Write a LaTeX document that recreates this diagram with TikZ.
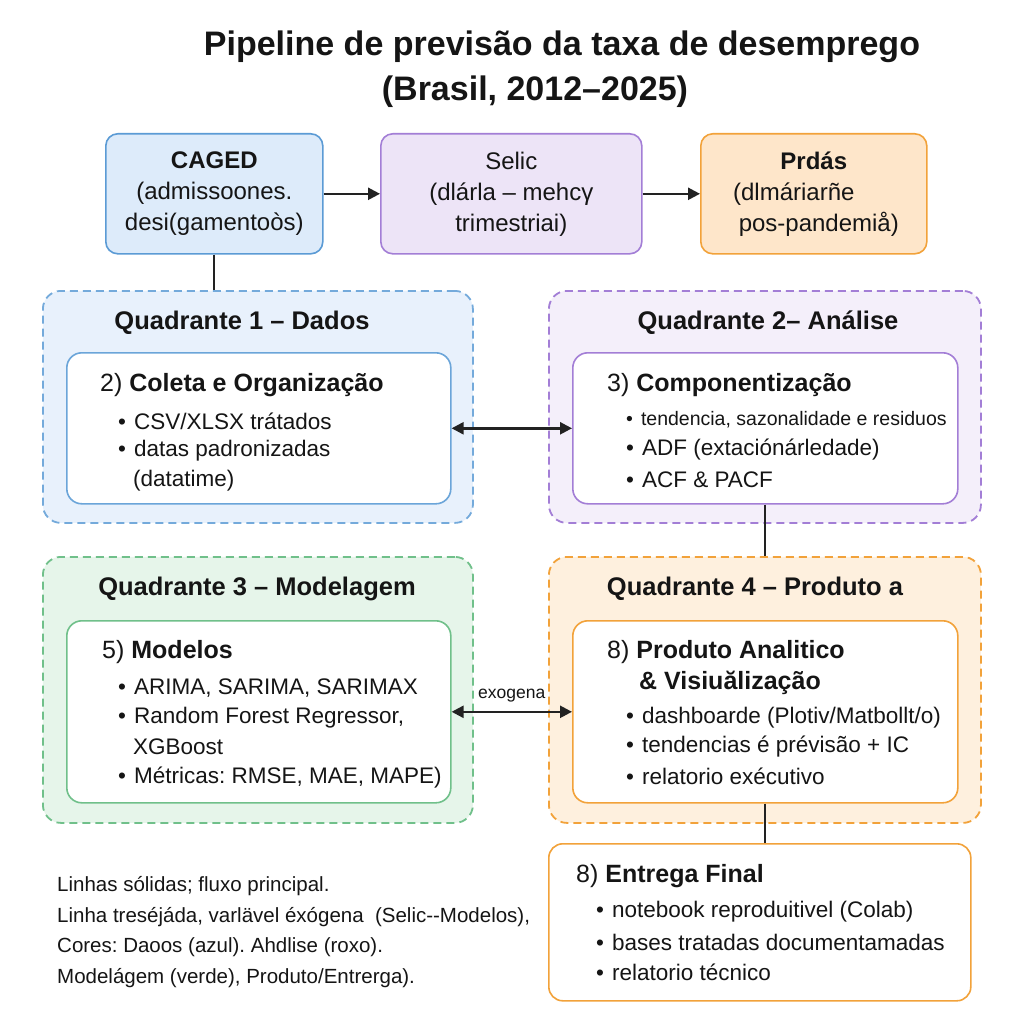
\documentclass[tikz,border=0pt]{standalone}
\usepackage{fontspec}
\setmainfont{Liberation Sans}
\usetikzlibrary{arrows.meta}
\definecolor{bluebd}{HTML}{5B9BD5}
\definecolor{bluefill}{HTML}{DDEBFA}
\definecolor{blueq}{HTML}{E8F1FC}
\definecolor{purpbd}{HTML}{A37ED6}
\definecolor{purpfill}{HTML}{EDE4F7}
\definecolor{purpq}{HTML}{F4EFFA}
\definecolor{greenbd}{HTML}{70C08A}
\definecolor{greenq}{HTML}{E6F5EA}
\definecolor{orbd}{HTML}{F2A23A}
\definecolor{orfill}{HTML}{FEE6CA}
\definecolor{orq}{HTML}{FEF0DE}
\definecolor{ink}{HTML}{151515}
\definecolor{arr}{HTML}{222222}
\begin{document}
\frenchspacing
\begin{tikzpicture}[x=1pt,y=-1pt,
  topbox/.style={draw, line width=1.6pt, rounded corners=12pt, anchor=north west, align=center, text=ink, inner sep=0pt, font=\fontsize{24}{31}\selectfont},
  quad/.style={draw, dashed, dash pattern=on 8pt off 5pt, line width=1.8pt, rounded corners=18pt, anchor=north west},
  inbox/.style={draw, fill=white, line width=1.6pt, rounded corners=15pt, anchor=north west},
  qtitle/.style={font=\fontsize{25.5}{30}\selectfont\bfseries, text=ink, anchor=center},
  heading/.style={font=\fontsize{25}{29}\selectfont, text=ink, anchor=west, inner sep=0pt},
  bul/.style={font=\fontsize{22.5}{26}\selectfont, text=ink, anchor=west, inner sep=0pt},
  legend/.style={font=\fontsize{20.5}{24}\selectfont, text=ink, anchor=west, inner sep=0pt},
  flow/.style={draw=arr, line width=2.4pt, -{Triangle[length=12pt,width=12pt]}},
  dflow/.style={draw=arr, line width=2.4pt, {Triangle[length=12pt,width=12pt]}-{Triangle[length=12pt,width=12pt]}},
  link/.style={draw=arr, line width=2.2pt}
]
\useasboundingbox[fill=white] (0,0) rectangle (1024,1024);

% title
\node[font=\fontsize{34}{38}\selectfont\bfseries, text=ink] (t1) at (562,47) {Pipeline de previsão da taxa de desemprego};
\node[font=\fontsize{34}{38}\selectfont\bfseries, text=ink] (t2) at (535,92) {(Brasil, 2012–2025)};

% top boxes
\node[topbox, draw=bluebd, fill=bluefill, minimum width=217pt, minimum height=120pt] (caged) at (105,133)
  {\textbf{CAGED}\\ (admissoones.\\ desi(gamentoòs)};
\node[topbox, draw=purpbd, fill=purpfill, minimum width=261pt, minimum height=120pt] (selic) at (380,133)
  {Selic\\ (dlárla – mehcγ\\ trimestriai)};
\node[topbox, draw=orbd, fill=orfill, minimum width=226pt, minimum height=120pt] (prdas) at (700,133)
  {\textbf{Prdás}\\ (dlmáriarñe\rule{40pt}{0pt}\\ \rule{10pt}{0pt}pos-pandemiå)};

% quadrants
\node[quad, draw=bluebd!85, fill=blueq, minimum width=430pt, minimum height=232pt] (q1) at (42,290) {};
\node[quad, draw=purpbd, fill=purpq, minimum width=432pt, minimum height=232pt] (q2) at (548,290) {};
\node[quad, draw=greenbd, fill=greenq, minimum width=430pt, minimum height=266pt] (q3) at (42,556) {};
\node[quad, draw=orbd, fill=orq, minimum width=432pt, minimum height=266pt] (q4) at (548,556) {};

\node[qtitle] (q1t) at (242,323) {Quadrante 1 – Dados};
\node[qtitle] (q2t) at (768,323) {Quadrante 2– Análise};
\node[qtitle] (q3t) at (257,589) {Quadrante 3 – Modelagem};
\node[qtitle] (q4t) at (755,589) {Quadrante 4 – Produto a};

% inner boxes
\node[inbox, draw=bluebd!90, minimum width=384pt, minimum height=151pt] (b1) at (66,352) {};
\node[inbox, draw=purpbd, minimum width=385pt, minimum height=151pt] (b2) at (572,352) {};
\node[inbox, draw=greenbd, minimum width=384pt, minimum height=182pt] (b3) at (66,620) {};
\node[inbox, draw=orbd, minimum width=385pt, minimum height=182pt] (b4) at (572,620) {};

% b1 text
\node[heading] (h1) at (100,385) {2) \textbf{Coleta e Organização}};
\node[bul] (b1a) at (118,421) {•\hspace{8pt}CSV/XLSX trátados};
\node[bul] (b1b) at (118,451) {•\hspace{8pt}datas padronizadas};
\node[bul] (b1c) at (133,481) {(datatime)};

% b2 text
\node[heading] (h2) at (607,385) {3) \textbf{Componentização}};
\node[bul, font=\fontsize{19.5}{23}\selectfont] (b2a) at (626,420) {•\hspace{8pt}tendencia, sazonalidade e residuos};
\node[bul] (b2b) at (626,450) {•\hspace{8pt}ADF (extaciónárledade)};
\node[bul] (b2c) at (626,480) {•\hspace{8pt}ACF \& PACF};

% b3 text
\node[heading] (h3) at (102,652) {5) \textbf{Modelos}};
\node[bul] (b3a) at (118,688) {•\hspace{8pt}ARIMA, SARIMA, SARIMAX};
\node[bul] (b3b) at (118,718) {•\hspace{8pt}Random Forest Regressor,};
\node[bul] (b3c) at (133,747) {XGBoost};
\node[bul] (b3d) at (118,778) {•\hspace{8pt}Métricas: RMSE, MAE, MAPE)};

% b4 text
\node[heading] (h4) at (607,652) {8) \textbf{Produto Analitico}};
\node[heading] (h4b) at (639,683) {\textbf{\& Visiuălização}};
\node[bul] (b4a) at (626,718) {•\hspace{8pt}dashboarde (Plotiv/Matbollt/o)};
\node[bul] (b4b) at (626,747) {•\hspace{8pt}tendencias é prévisão + IC};
\node[bul] (b4c) at (626,776) {•\hspace{8pt}relatorio exécutivo};

% final box
\node[inbox, draw=orbd, rounded corners=14pt, minimum width=422pt, minimum height=157pt] (ent) at (548,843) {};
\node[heading] (h5) at (576,876) {8) \textbf{Entrega Final}};
\node[bul] (e1) at (596,912) {•\hspace{8pt}notebook reproduitivel (Colab)};
\node[bul] (e2) at (596,942) {•\hspace{8pt}bases tratadas documentamadas};
\node[bul] (e3) at (596,972) {•\hspace{8pt}relatorio técnico};

% legend
\node[legend] (l1) at (57,886) {Linhas sólidas; fluxo principal.};
\node[legend] (l2) at (57,917) {Linha treséjáda, varlävel éxógena\ \ (Selic-{}-Modelos),};
\node[legend] (l3) at (57,947) {Cores: Daoos (azul). Ahdlise (roxo).};
\node[legend] (l4) at (57,978) {Modelágem (verde), Produto/Entrerga).};

% connectors
\draw[flow] (caged) -- (selic);
\draw[flow] (selic) -- (prdas);
\draw[link] (caged.south) -- (caged.south |- q1.north);
\draw[dflow] (b1) -- (b2);
\draw[link] (b2.south) -- (b2.south |- q4.north);
\draw[dflow] (b3.east) -- node[above=5pt, font=\fontsize{17.5}{20}\selectfont, text=ink] (exo) {exogena} (b4.west);
\draw[link] (b4.south) -- (b4.south |- ent.north);
\end{tikzpicture}
\end{document}
